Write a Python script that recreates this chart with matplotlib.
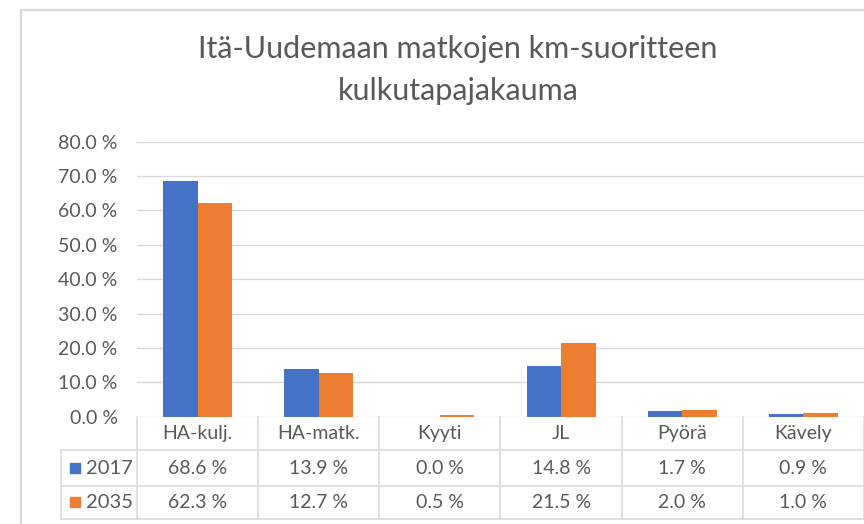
import numpy as np
import matplotlib
matplotlib.use("Agg")
import matplotlib.pyplot as plt
from matplotlib.lines import Line2D

plt.rcParams['font.family'] = ['Lato', 'DejaVu Sans']

title = "Itä-Uudemaan matkojen km-suoritteen\nkulkutapajakauma"
categories = ["HA-kulj.", "HA-matk.", "Kyyti", "JL", "Pyörä", "Kävely"]
years = ["2017", "2035"]
share_2017 = [68.6, 13.9, 0.0, 14.8, 1.7, 0.9]
share_2035 = [62.3, 12.7, 0.5, 21.5, 2.0, 1.0]
yticks = [0, 10, 20, 30, 40, 50, 60, 70, 80]

colors = ["#4472C4", "#ED7D31"]
text_col = "#595959"
line_col = "#D9D9D9"

W, H = 864, 524
fig = plt.figure(figsize=(W / 100, H / 100), dpi=100)

# plot area in pixel terms
left, right, top, bottom = 137, 864, 141.7, 416.7
ax = fig.add_axes([left / W, (H - bottom) / H, (right - left) / W, (bottom - top) / H])

x = np.arange(len(categories))
w = 0.285
ax.bar(x - w / 2, share_2017, w, color=colors[0], zorder=3)
ax.bar(x + w / 2, share_2035, w, color=colors[1], zorder=3)

ax.set_xlim(-0.5, len(categories) - 0.5)
ax.set_ylim(0, 80)
ax.set_yticks(yticks)
ax.set_yticklabels([f"{v:.1f} %" for v in yticks], color=text_col, fontsize=14)
ax.tick_params(axis='y', length=0, pad=14)
ax.set_xticks([])
for v in yticks:
    ax.axhline(v, color=line_col, lw=1.0, zorder=1)
for s in ax.spines.values():
    s.set_visible(False)

# data table below the plot
tr = ax.get_xaxis_transform()
px_h = bottom - top
row_y = [0, -(450 - bottom) / px_h, -(486 - bottom) / px_h, -(518.5 - bottom) / px_h]
legend_x = -0.5 - (left - 61) / ((right - left) / len(categories))
xmax = len(categories) - 0.5

def seg(x0, x1, y0, y1):
    ax.add_line(Line2D([x0, x1], [y0, y1], transform=tr, color=line_col,
                       lw=1.1, clip_on=False))

for k in range(len(categories) + 1):
    seg(k - 0.5, k - 0.5, row_y[0], row_y[3])
seg(legend_x, legend_x, row_y[1], row_y[3])
for yy in row_y[1:]:
    seg(legend_x, xmax, yy, yy)

def mid(i):
    return (row_y[i] + row_y[i + 1]) / 2

for i, cat in enumerate(categories):
    ax.text(i, mid(0), cat, transform=tr, ha='center', va='center',
            fontsize=14, color=text_col)
    ax.text(i, mid(1), f"{share_2017[i]:.1f} %", transform=tr, ha='center',
            va='center', fontsize=14, color=text_col)
    ax.text(i, mid(2), f"{share_2035[i]:.1f} %", transform=tr, ha='center',
            va='center', fontsize=14, color=text_col)

unit = (right - left) / len(categories)
mark_x = -0.5 - (left - 75) / unit
lab_x = -0.5 - (left - 86) / unit
for r, (yr, c) in enumerate(zip(years, colors)):
    ax.plot([mark_x], [mid(r + 1)], marker='s', ms=6.5, color=c,
            transform=tr, clip_on=False, linestyle='none')
    ax.text(lab_x, mid(r + 1), yr, transform=tr, ha='left', va='center',
            fontsize=14.5, color=text_col)

# chart frame
fig.add_artist(Line2D([20.5 / W, 20.5 / W], [0, 1 - 10 / H], color=line_col, lw=1.5))
fig.add_artist(Line2D([20.5 / W, 1], [1 - 10 / H, 1 - 10 / H], color=line_col, lw=1.5))

fig.text(458 / W, 1 - 70 / H, title, ha='center', va='center', fontsize=22,
         color=text_col, linespacing=1.6)

fig.savefig("out.png", dpi=100)
